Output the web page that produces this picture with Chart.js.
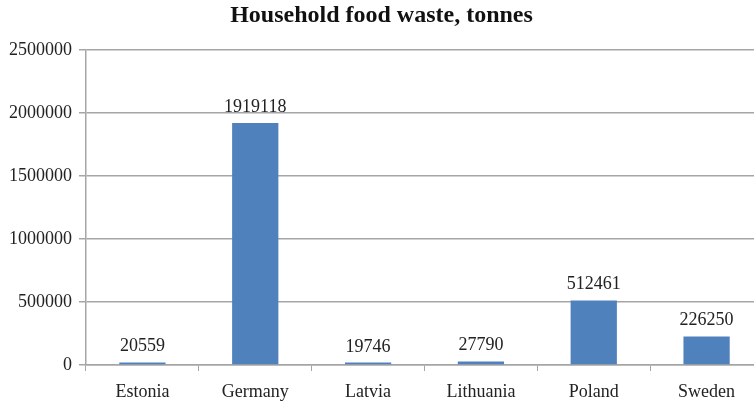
<!DOCTYPE html>
<html>
<head>
<meta charset="utf-8">
<script src="https://cdn.jsdelivr.net/npm/chart.js@4/dist/chart.umd.min.js"></script>
<style>
  html, body { margin: 0; padding: 0; background: #fff; overflow: hidden; }
  #wrap { width: 770px; height: 406px; }
</style>
</head>
<body>
<div id="wrap"><canvas id="c" width="770" height="406"></canvas></div>
<script>
// Household food waste by country, tonnes
const countries = ['Estonia', 'Germany', 'Latvia', 'Lithuania', 'Poland', 'Sweden'];
const wasteTonnes = [20559, 1919118, 19746, 27790, 512461, 226250];
const yTicks = [0, 500000, 1000000, 1500000, 2000000, 2500000];

const serif = '"Liberation Serif", "Times New Roman", serif';

// Draws each bar's value just above it
const valueLabels = {
  id: 'valueLabels',
  afterDatasetsDraw(chart) {
    const ctx = chart.ctx;
    const meta = chart.getDatasetMeta(0);
    ctx.save();
    ctx.font = '18px ' + serif;
    ctx.fillStyle = '#222';
    ctx.textAlign = 'center';
    ctx.textBaseline = 'alphabetic';
    meta.data.forEach((bar, i) => {
      ctx.fillText(String(chart.data.datasets[0].data[i]), bar.x, bar.y - 11);
    });
    ctx.restore();
  }
};

new Chart(document.getElementById('c'), {
  type: 'bar',
  data: {
    labels: countries,
    datasets: [{
      data: wasteTonnes,
      backgroundColor: '#4f81bd',
      barPercentage: 0.41,
      categoryPercentage: 1.0
    }]
  },
  options: {
    responsive: false,
    animation: false,
    layout: { padding: { left: 0, right: 7, top: 0, bottom: 0 } },
    plugins: {
      legend: { display: false },
      tooltip: { enabled: false },
      title: {
        display: true,
        text: 'Household food waste, tonnes',
        color: '#111',
        font: { family: serif, size: 24, weight: 'bold' },
        padding: { top: 1, bottom: 20 }
      }
    },
    scales: {
      x: {
        grid: { drawOnChartArea: false, drawTicks: true, tickLength: 6, color: '#a6a6a6', offset: true },
        border: { color: '#a6a6a6', width: 1.5 },
        ticks: { color: '#222', font: { family: serif, size: 18 }, padding: 10 },
        afterFit(scale) { scale.height = 41; }
      },
      y: {
        min: 0,
        max: 2500000,
        afterBuildTicks(scale) { scale.ticks = yTicks.map(v => ({ value: v })); },
        grid: { color: '#a6a6a6', lineWidth: 1.5, tickLength: 7 },
        border: { color: '#a6a6a6', width: 1.5 },
        ticks: {
          color: '#222',
          font: { family: serif, size: 18 },
          padding: 7,
          callback: (v) => String(v)
        },
        afterFit(scale) { scale.width = 86; }
      }
    }
  },
  plugins: [valueLabels]
});
</script>
</body>
</html>
